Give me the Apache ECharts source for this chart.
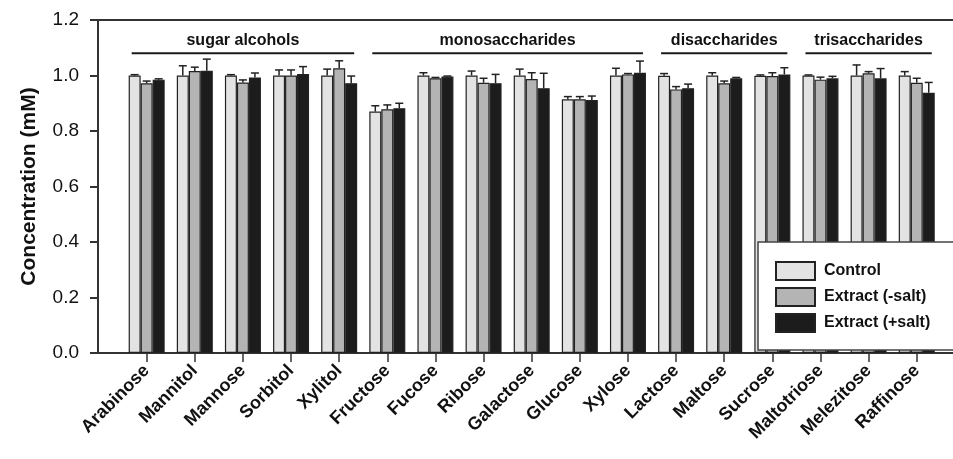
<!DOCTYPE html>
<html>
<head>
<meta charset="utf-8">
<script src="https://cdn.jsdelivr.net/npm/echarts@6/dist/echarts.min.js"></script>
<style>
  html, body { margin: 0; padding: 0; background: #fff; }
  #chart { width: 953px; height: 459px; }
</style>
</head>
<body>
<div id="chart"></div>
<script>
// categories and values
var sugars = ['Arabinose', 'Mannitol', 'Mannose', 'Sorbitol', 'Xylitol', 'Fructose', 'Fucose', 'Ribose',
  'Galactose', 'Glucose', 'Xylose', 'Lactose', 'Maltose', 'Sucrose', 'Maltotriose', 'Melezitose', 'Raffinose']

var seriesNames = ['Control', 'Extract (-salt)', 'Extract (+salt)']

var controlVals = [1.0, 1.0, 1.0, 1.0, 1.0, 0.870, 1.0, 1.0, 1.0, 0.914, 1.0, 0.999, 1.0, 0.999, 1.0, 1.0, 1.0]
var controlErr = [0.003, 0.035, 0.003, 0.020, 0.023, 0.021, 0.010, 0.016, 0.023, 0.010, 0.026, 0.008, 0.010, 0.003, 0.002, 0.038, 0.014]

var minusSaltVals = [0.972, 1.016, 0.975, 1.0, 1.026, 0.878, 0.990, 0.974, 0.987, 0.914, 1.004, 0.950, 0.972, 0.998, 0.985, 1.008, 0.974]
var minusSaltErr = [0.008, 0.014, 0.009, 0.020, 0.027, 0.016, 0.003, 0.016, 0.023, 0.010, 0.003, 0.010, 0.008, 0.012, 0.009, 0.006, 0.016]

var plusSaltVals = [0.985, 1.017, 0.993, 1.005, 0.972, 0.882, 0.996, 0.972, 0.954, 0.912, 1.010, 0.954, 0.990, 1.004, 0.990, 0.990, 0.938]
var plusSaltErr = [0.003, 0.042, 0.016, 0.027, 0.026, 0.018, 0.002, 0.032, 0.054, 0.014, 0.042, 0.015, 0.003, 0.024, 0.007, 0.035, 0.037]

var groupNames = ['sugar alcohols', 'monosaccharides', 'disaccharides', 'trisaccharides']
var groupStart = [0, 5, 11, 14]
var groupEnd = [4, 10, 13, 16]
var groupLevel = 1.08

var yTicks = [0, 0.2, 0.4, 0.6, 0.8, 1.0, 1.2]

var FONT = "'Liberation Sans', Arial, sans-serif"
var colors = ['#e3e3e3', '#b4b4b4', '#1c1c1c']
var BAR_W = 12

var chart = echarts.init(document.getElementById('chart'))

function barSeries (name, vals, color) {
  return {
    name: name,
    type: 'bar',
    xAxisIndex: 0,
    yAxisIndex: 0,
    barWidth: BAR_W,
    barGap: '0%',
    data: vals,
    itemStyle: { color: color, borderColor: '#222', borderWidth: 1.2 },
    z: 2
  }
}

function errorSeries (vals, errs, offset) {
  return {
    type: 'custom',
    xAxisIndex: 0,
    yAxisIndex: 0,
    z: 3,
    encode: { x: 0, y: 1 },
    data: vals.map(function (v, i) { return [i, v, errs[i]] }),
    renderItem: function (params, api) {
      var base = api.coord([api.value(0), api.value(1)])
      var top = api.coord([api.value(0), api.value(1) + api.value(2)])
      var x = base[0] + offset
      var style = { stroke: '#222', lineWidth: 1.5 }
      return {
        type: 'group',
        children: [
          { type: 'line', shape: { x1: x, y1: base[1], x2: x, y2: top[1] }, style: style },
          { type: 'line', shape: { x1: x - 4, y1: top[1], x2: x + 4, y2: top[1] }, style: style }
        ]
      }
    }
  }
}

var groupSeries = {
  type: 'custom',
  xAxisIndex: 0,
  yAxisIndex: 0,
  z: 3,
  encode: { x: 0, y: 1 },
  data: groupNames.map(function (n, i) { return [groupStart[i], groupLevel, groupEnd[i], i] }),
  renderItem: function (params, api) {
    var p1 = api.coord([api.value(0), api.value(1)])
    var p2 = api.coord([api.value(2), api.value(1)])
    var x1 = p1[0] - 15
    var x2 = p2[0] + 15
    return {
      type: 'group',
      children: [
        { type: 'line', shape: { x1: x1, y1: p1[1], x2: x2, y2: p1[1] }, style: { stroke: '#1a1a1a', lineWidth: 2 } },
        {
          type: 'text',
          x: (x1 + x2) / 2,
          y: p1[1] - 5,
          style: {
            text: groupNames[api.value(3)],
            fontFamily: FONT,
            fontWeight: 'bold',
            fontSize: 16,
            fill: '#111',
            align: 'center',
            verticalAlign: 'bottom'
          }
        }
      ]
    }
  }
}

var option = {
  animation: false,
  backgroundColor: '#fff',
  textStyle: { fontFamily: FONT },
  grid: [
    { left: 122.6, right: 12.2, top: 20, bottom: 106 },
    { left: 98, right: 0, top: 20, bottom: 106 }
  ],
  legend: {
    data: seriesNames,
    orient: 'vertical',
    left: 758,
    top: 242,
    padding: [19, 40, 17, 17],
    icon: 'rect',
    itemWidth: 39,
    itemHeight: 18,
    itemGap: 6,
    backgroundColor: '#fff',
    borderColor: '#444',
    borderWidth: 1.5,
    borderRadius: 0,
    textStyle: { fontFamily: FONT, fontWeight: 'bold', fontSize: 16, color: '#111', padding: [0, 0, 0, 4] },
    z: 10
  },
  xAxis: [
    {
      type: 'category',
      gridIndex: 0,
      data: sugars,
      axisLine: { show: false },
      axisTick: { show: true, alignWithLabel: true, length: 9, lineStyle: { color: '#333', width: 1.5 } },
      axisLabel: {
        interval: 0,
        rotate: 45,
        margin: 15,
        fontFamily: FONT,
        fontWeight: 'bold',
        fontSize: 18,
        color: '#111'
      },
      splitLine: { show: false }
    },
    {
      type: 'value',
      gridIndex: 1,
      position: 'bottom',
      min: 0,
      max: 1,
      axisLine: { show: true, lineStyle: { color: '#333', width: 2 } },
      axisTick: { show: false },
      axisLabel: { show: false },
      splitLine: { show: false }
    },
    {
      type: 'value',
      gridIndex: 1,
      position: 'top',
      min: 0,
      max: 1,
      axisLine: { show: true, lineStyle: { color: '#333', width: 2 } },
      axisTick: { show: false },
      axisLabel: { show: false },
      splitLine: { show: false }
    }
  ],
  yAxis: [
    {
      type: 'value',
      gridIndex: 0,
      min: 0,
      max: 1.2,
      show: false
    },
    {
      type: 'value',
      gridIndex: 1,
      min: yTicks[0],
      max: yTicks[yTicks.length - 1],
      interval: 0.2,
      name: 'Concentration (mM)',
      nameLocation: 'middle',
      nameGap: 58,
      nameTextStyle: { fontFamily: FONT, fontWeight: 'bold', fontSize: 21, color: '#111' },
      axisLine: { show: true, lineStyle: { color: '#333', width: 2 } },
      axisTick: { show: true, length: 8, lineStyle: { color: '#333', width: 2 } },
      axisLabel: {
        margin: 19,
        fontFamily: FONT,
        fontSize: 19,
        color: '#111',
        formatter: function (v) { return v.toFixed(1) }
      },
      splitLine: { show: false }
    }
  ],
  series: [
    barSeries(seriesNames[0], controlVals, colors[0]),
    barSeries(seriesNames[1], minusSaltVals, colors[1]),
    barSeries(seriesNames[2], plusSaltVals, colors[2]),
    errorSeries(controlVals, controlErr, -BAR_W),
    errorSeries(minusSaltVals, minusSaltErr, 0),
    errorSeries(plusSaltVals, plusSaltErr, BAR_W),
    groupSeries
  ]
}

chart.setOption(option)
</script>
</body>
</html>
